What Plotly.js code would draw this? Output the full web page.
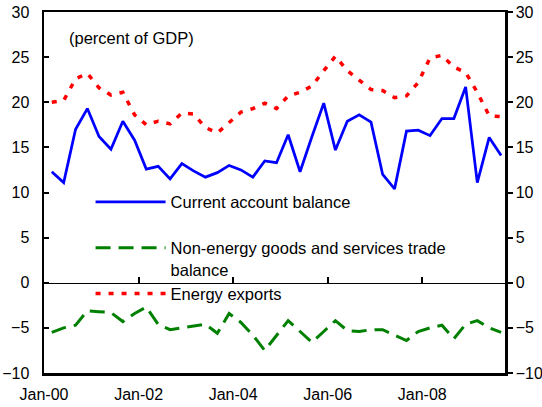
<!DOCTYPE html>
<html>
<head>
<meta charset="utf-8">
<script src="https://cdn.plot.ly/plotly-3.0.1.min.js"></script>
<style>
  html, body { margin: 0; padding: 0; background: #fff; }
  #chart { width: 542px; height: 407px; }
</style>
</head>
<body>
<div id="chart"></div>
<script>
// Quarterly observation dates (Mar, Jun, Sep, Dec)
const dates = [
  '2000-03-01','2000-06-01','2000-09-01','2000-12-01',
  '2001-03-01','2001-06-01','2001-09-01','2001-12-01',
  '2002-03-01','2002-06-01','2002-09-01','2002-12-01',
  '2003-03-01','2003-06-01','2003-09-01','2003-12-01',
  '2004-03-01','2004-06-01','2004-09-01','2004-12-01',
  '2005-03-01','2005-06-01','2005-09-01','2005-12-01',
  '2006-03-01','2006-06-01','2006-09-01','2006-12-01',
  '2007-03-01','2007-06-01','2007-09-01','2007-12-01',
  '2008-03-01','2008-06-01','2008-09-01','2008-12-01',
  '2009-03-01','2009-06-01','2009-09-01'
];

const currentAccount = [
  12.3, 11.1, 17.0, 19.3, 16.2, 14.8, 17.9, 15.8,
  12.6, 12.9, 11.5, 13.2, 12.4, 11.7, 12.2, 13.0,
  12.5, 11.7, 13.5, 13.3, 16.4, 12.3, 16.2, 19.9,
  14.7, 17.9, 18.6, 17.8, 12.0, 10.4, 16.8, 16.9,
  16.3, 18.2, 18.2, 21.7, 11.1, 16.1, 14.1
];

const nonEnergyBalance = [
  -5.5, -5.0, -4.7, -3.1, -3.2, -3.3, -4.3, -3.4,
  -2.7, -4.6, -5.2, -5.0, -4.8, -4.6, -5.6, -3.4,
  -4.4, -5.8, -7.5, -5.8, -4.2, -5.4, -6.6, -5.4,
  -4.2, -5.3, -5.4, -5.2, -5.2, -5.8, -6.4, -5.4,
  -5.0, -4.7, -6.2, -4.6, -4.2, -5.0, -5.5
];

const energyExports = [
  20.0, 20.2, 22.6, 23.2, 21.6, 20.8, 21.1, 18.6,
  17.5, 17.9, 17.6, 18.8, 18.7, 17.2, 16.6, 17.7,
  18.9, 19.3, 19.9, 19.3, 20.7, 21.1, 21.8, 23.5,
  25.1, 23.5, 22.4, 21.4, 21.3, 20.5, 20.7, 22.2,
  24.9, 25.2, 23.9, 23.3, 21.1, 18.5, 18.4
];

const seriesNames = [
  'Current account balance<br> ',
  'Non-energy goods and services trade<br>balance',
  'Energy exports'
];

const xRange = ['2000-01-01', '2009-10-01'];
const yRange = [-10, 30];
const unitNote = '(percent of GDP)';

const FONT = '"Liberation Sans", Arial, sans-serif';
const FS = 16.5;
const TFS = 16;

const traces = [
  {
    x: dates, y: currentAccount, name: seriesNames[0],
    type: 'scatter', mode: 'lines',
    line: { color: '#0000FF', width: 2.75 }
  },
  {
    x: dates, y: nonEnergyBalance, name: seriesNames[1],
    type: 'scatter', mode: 'lines',
    line: { color: '#008000', width: 3, dash: '15px,8px' }
  },
  {
    x: dates, y: energyExports, name: seriesNames[2],
    type: 'scatter', mode: 'lines',
    line: { color: '#FF0000', width: 3.5, dash: '5px,8px' }
  },
  {
    // invisible helper so the secondary axes are drawn
    x: dates, y: nonEnergyBalance, xaxis: 'x2', yaxis: 'y2',
    type: 'scatter', mode: 'lines', showlegend: false, hoverinfo: 'skip',
    line: { width: 0 }, opacity: 0
  }
];

const layout = {
  width: 542, height: 407,
  margin: { l: 44, r: 37, t: 12, b: 34, pad: 0 },
  paper_bgcolor: '#fff', plot_bgcolor: '#fff',
  font: { family: FONT, size: FS, color: '#000' },
  showlegend: true,
  legend: {
    x: 0.101, xanchor: 'left',
    y: 0.522, yanchor: 'top',
    bgcolor: 'rgba(0,0,0,0)', borderwidth: 0,
    font: { family: FONT, size: FS, color: '#000' },
    valign: 'top', itemwidth: 70,
    traceorder: 'normal'
  },
  xaxis: {
    type: 'date', range: xRange,
    showgrid: false, zeroline: false,
    showline: true, linecolor: '#000', linewidth: 2.5, mirror: true,
    ticks: '', tickformat: '%b-%y', dtick: 'M24', tick0: '2000-01-01',
    tickfont: { family: FONT, size: TFS, color: '#000' },
    ticklabelstandoff: 5
  },
  xaxis2: {
    type: 'date', range: xRange, overlaying: 'x',
    anchor: 'free', position: 0.25, side: 'bottom',
    showgrid: false, zeroline: false,
    showline: true, linecolor: '#000', linewidth: 1.5,
    ticks: 'inside', ticklen: 6, tickwidth: 2, tickcolor: '#000',
    dtick: 'M24', tick0: '2000-01-01',
    showticklabels: false
  },
  yaxis: {
    range: yRange, dtick: 5, tick0: 0,
    showgrid: false, zeroline: false,
    showline: true, linecolor: '#000', linewidth: 2.5,
    ticks: 'inside', ticklen: 5, tickwidth: 2, tickcolor: '#000',
    tickfont: { family: FONT, size: TFS, color: '#000' },
    ticklabelstandoff: 9
  },
  yaxis2: {
    range: yRange, dtick: 5, tick0: 0, overlaying: 'y', side: 'right',
    anchor: 'x',
    showgrid: false, zeroline: false,
    showline: true, linecolor: '#000', linewidth: 2.5,
    ticks: 'outside', ticklen: 5, tickwidth: 2, tickcolor: '#000',
    tickfont: { family: FONT, size: TFS, color: '#000' }
  },
  annotations: [
    {
      text: unitNote, xref: 'paper', yref: 'paper',
      x: 0.05, xanchor: 'left', y: 0.928, yanchor: 'middle',
      showarrow: false, font: { family: FONT, size: FS, color: '#000' }
    }
  ]
};

Plotly.newPlot('chart', traces, layout, { staticPlot: true, displayModeBar: false });
</script>
</body>
</html>
